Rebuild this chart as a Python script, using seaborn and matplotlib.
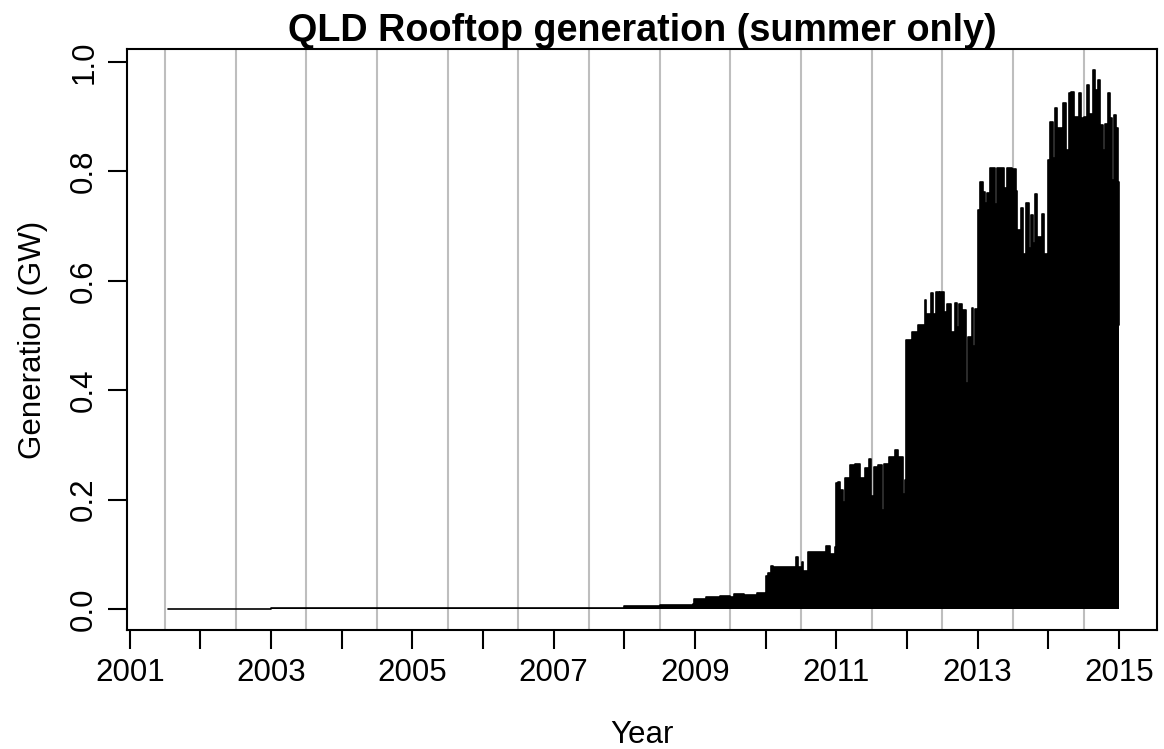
import numpy as np
import pandas as pd
import matplotlib
matplotlib.use('Agg')
import matplotlib.pyplot as plt
import seaborn as sns

# daily peak envelope, one pair of lists per season
t_early = [2001.54, 2002.99, 2003.0, 2006.5, 2007.99, 2008.0, 2008.5, 2008.97]
gw_early = [0.0005, 0.0005, 0.0015, 0.002, 0.003, 0.005, 0.007, 0.009]

t_2009 = [2008.99, 2009.16, 2009.36, 2009.5, 2009.55, 2009.7, 2009.88, 2009.985]
gw_2009 = [0.018, 0.021, 0.024, 0.022, 0.027, 0.026, 0.029, 0.027]

t_2010 = [2010.0, 2010.03, 2010.07, 2010.1, 2010.2, 2010.35, 2010.43, 2010.46,
          2010.51, 2010.53, 2010.6, 2010.77, 2010.85, 2010.91, 2010.975]
gw_2010 = [0.06, 0.066, 0.079, 0.076, 0.077, 0.076, 0.095, 0.077,
           0.085, 0.07, 0.104, 0.104, 0.115, 0.10, 0.114]

t_2011 = [2010.99, 2011.02, 2011.05, 2011.1, 2011.12, 2011.2, 2011.26, 2011.33,
          2011.4, 2011.47, 2011.49, 2011.53, 2011.59, 2011.65, 2011.68, 2011.75,
          2011.83, 2011.87, 2011.94, 2011.975]
gw_2011 = [0.23, 0.233, 0.218, 0.196, 0.24, 0.263, 0.265, 0.24,
           0.258, 0.274, 0.206, 0.26, 0.263, 0.181, 0.265, 0.278,
           0.29, 0.278, 0.21, 0.236]

t_2012 = [2011.99, 2012.06, 2012.07, 2012.16, 2012.25, 2012.27, 2012.34, 2012.37,
          2012.41, 2012.45, 2012.47, 2012.53, 2012.57, 2012.62, 2012.68, 2012.71,
          2012.74, 2012.78, 2012.8, 2012.83, 2012.87, 2012.92, 2012.94, 2012.96,
          2012.985]
gw_2012 = [0.492, 0.47, 0.507, 0.519, 0.565, 0.54, 0.577, 0.54,
           0.58, 0.54, 0.58, 0.543, 0.558, 0.507, 0.56, 0.515,
           0.558, 0.437, 0.546, 0.414, 0.497, 0.55, 0.48, 0.548,
           0.48]

t_2013 = [2013.0, 2013.03, 2013.07, 2013.1, 2013.13, 2013.18, 2013.24, 2013.27,
          2013.33, 2013.38, 2013.41, 2013.49, 2013.54, 2013.56, 2013.61, 2013.64,
          2013.69, 2013.73, 2013.76, 2013.78, 2013.81, 2013.84, 2013.91, 2013.94,
          2013.985]
gw_2013 = [0.729, 0.781, 0.763, 0.742, 0.76, 0.807, 0.74, 0.807,
           0.806, 0.77, 0.806, 0.805, 0.765, 0.693, 0.733, 0.65,
           0.742, 0.66, 0.72, 0.67, 0.759, 0.68, 0.723, 0.65,
           0.537]

t_2014 = [2014.0, 2014.03, 2014.07, 2014.1, 2014.13, 2014.16, 2014.19, 2014.21,
          2014.25, 2014.29, 2014.32, 2014.36, 2014.4, 2014.44, 2014.47, 2014.5,
          2014.55, 2014.58, 2014.63, 2014.66, 2014.71, 2014.74, 2014.77, 2014.8,
          2014.85, 2014.87, 2014.9, 2014.93, 2014.96, 2014.98, 2014.995, 2015.0]
gw_2014 = [0.821, 0.891, 0.824, 0.917, 0.879, 0.879, 0.833, 0.925,
           0.839, 0.943, 0.946, 0.90, 0.90, 0.943, 0.897, 0.90,
           0.958, 0.906, 0.985, 0.949, 0.967, 0.885, 0.84, 0.887,
           0.943, 0.897, 0.784, 0.903, 0.84, 0.879, 0.78, 0.52]

grid_years = [2001.5 + i for i in range(14)]
year_ticks = list(range(2001, 2016))
y_ticks = [0.0, 0.2, 0.4, 0.6, 0.8, 1.0]

df = pd.DataFrame({
    'year': t_early + t_2009 + t_2010 + t_2011 + t_2012 + t_2013 + t_2014,
    'gw': gw_early + gw_2009 + gw_2010 + gw_2011 + gw_2012 + gw_2013 + gw_2014,
})

sns.set_style('ticks')
plt.rcParams['font.family'] = ['Liberation Sans', 'DejaVu Sans']
plt.rcParams['text.color'] = 'black'
plt.rcParams['axes.labelcolor'] = 'black'
plt.rcParams['xtick.color'] = 'black'
plt.rcParams['ytick.color'] = 'black'

fig = plt.figure(figsize=(11.64, 7.49), dpi=100)
ax = fig.add_axes([127 / 1164, 1 - 630 / 749, 1030 / 1164, 581 / 749])

for g in grid_years:
    ax.axvline(g, color='#BEBEBE', lw=1.5, zorder=0)

ax.fill_between(df['year'], 0, df['gw'], step='post', color='black', lw=0, zorder=2)
sns.lineplot(data=df, x='year', y='gw', color='black', lw=1.2,
             estimator=None, sort=False, drawstyle='steps-post', ax=ax, zorder=3)

ax.set_xlim(2000.96, 2015.54)
ax.set_ylim(-0.0385, 1.024)

ax.set_xticks(year_ticks)
ax.set_xticklabels([str(y) if y % 2 == 1 else '' for y in year_ticks])
ax.set_yticks(y_ticks)
ax.set_yticklabels(['%.1f' % v for v in y_ticks])
for lab in ax.get_yticklabels():
    lab.set_rotation(90)
    lab.set_va('center')

ax.tick_params(axis='both', direction='out', length=14, width=1.5,
               color='black', labelcolor='black', labelsize=22.5, pad=6)
for s in ax.spines.values():
    s.set_visible(True)
    s.set_color('black')
    s.set_linewidth(1.5)

ax.set_xlabel('Year', fontsize=22.5)
ax.set_ylabel('Generation (GW)', fontsize=22.5)
ax.xaxis.set_label_coords(0.5, -0.155)
ax.yaxis.set_label_coords(-0.077, 0.5)
ax.set_title('QLD Rooftop generation (summer only)', fontsize=27.2,
             fontweight='bold', color='black', pad=4)

fig.savefig('out.png', dpi=100)
